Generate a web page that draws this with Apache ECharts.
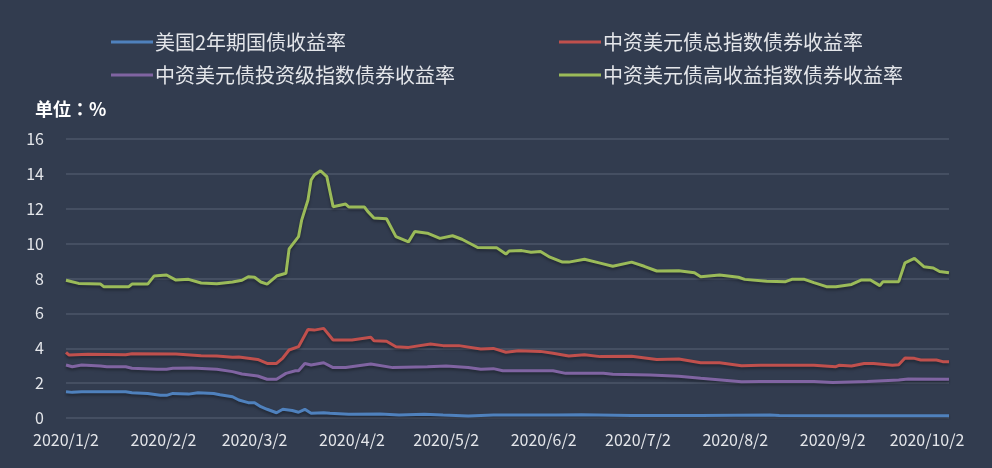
<!DOCTYPE html>
<html>
<head>
<meta charset="utf-8">
<script src="https://cdn.jsdelivr.net/npm/echarts@6/dist/echarts.min.js"></script>
<style>
  html, body { margin: 0; padding: 0; background: #323c4f; }
  #main { width: 992px; height: 468px; }
</style>
</head>
<body>
<div id="main"></div>
<script>
// 系列名称
var seriesNames = ['美国2年期国债收益率', '中资美元债总指数债券收益率', '中资美元债投资级指数债券收益率', '中资美元债高收益指数债券收益率'];
var seriesColors = ['#4f81bd', '#c0504d', '#8064a2', '#9bbb59'];

// 日期区间（日历日）
var startDate = '2020/1/2';
var endDate = '2020/10/9';

// 美国2年期国债收益率
var ust2y = [
    ['2020/1/2', 1.51], ['2020/1/4', 1.47], ['2020/1/7', 1.51], ['2020/1/21', 1.51], ['2020/1/23', 1.45],
    ['2020/1/28', 1.41], ['2020/2/1', 1.30], ['2020/2/3', 1.30], ['2020/2/5', 1.41], ['2020/2/10', 1.37],
    ['2020/2/13', 1.45], ['2020/2/18', 1.41], ['2020/2/20', 1.33], ['2020/2/24', 1.22], ['2020/2/26', 1.03],
    ['2020/2/29', 0.88], ['2020/3/2', 0.88], ['2020/3/4', 0.65], ['2020/3/6', 0.50], ['2020/3/9', 0.30],
    ['2020/3/11', 0.50], ['2020/3/14', 0.43], ['2020/3/16', 0.33], ['2020/3/18', 0.50], ['2020/3/20', 0.27],
    ['2020/3/24', 0.30], ['2020/3/26', 0.27], ['2020/4/1', 0.21], ['2020/4/11', 0.23], ['2020/4/17', 0.17],
    ['2020/4/25', 0.21], ['2020/5/1', 0.17], ['2020/5/9', 0.12], ['2020/5/17', 0.17], ['2020/6/6', 0.17],
    ['2020/6/14', 0.19], ['2020/6/30', 0.15], ['2020/7/22', 0.14], ['2020/8/13', 0.17], ['2020/8/16', 0.14],
    ['2020/9/11', 0.13], ['2020/10/9', 0.13]
];

// 中资美元债总指数债券收益率
var totalIdx = [
    ['2020/1/2', 3.77], ['2020/1/3', 3.61], ['2020/1/9', 3.66], ['2020/1/21', 3.63], ['2020/1/23', 3.69],
    ['2020/2/6', 3.67], ['2020/2/14', 3.57], ['2020/2/19', 3.55], ['2020/2/24', 3.48], ['2020/2/26', 3.50],
    ['2020/3/3', 3.36], ['2020/3/6', 3.13], ['2020/3/9', 3.13], ['2020/3/11', 3.44], ['2020/3/13', 3.90],
    ['2020/3/16', 4.09], ['2020/3/19', 5.08], ['2020/3/21', 5.04], ['2020/3/24', 5.14], ['2020/3/27', 4.47],
    ['2020/4/2', 4.47], ['2020/4/8', 4.63], ['2020/4/9', 4.43], ['2020/4/13', 4.40], ['2020/4/16', 4.09],
    ['2020/4/20', 4.05], ['2020/4/27', 4.24], ['2020/5/1', 4.15], ['2020/5/6', 4.15], ['2020/5/13', 3.96],
    ['2020/5/17', 3.99], ['2020/5/21', 3.77], ['2020/5/25', 3.86], ['2020/6/1', 3.82], ['2020/6/5', 3.71],
    ['2020/6/10', 3.56], ['2020/6/15', 3.63], ['2020/6/20', 3.52], ['2020/6/30', 3.54], ['2020/7/8', 3.36],
    ['2020/7/15', 3.38], ['2020/7/22', 3.17], ['2020/7/28', 3.17], ['2020/8/4', 3.00], ['2020/8/10', 3.02],
    ['2020/8/27', 3.02], ['2020/9/3', 2.94], ['2020/9/4', 3.02], ['2020/9/8', 2.98], ['2020/9/12', 3.13],
    ['2020/9/15', 3.13], ['2020/9/21', 3.02], ['2020/9/23', 3.05], ['2020/9/25', 3.44], ['2020/9/28', 3.42],
    ['2020/9/30', 3.33], ['2020/10/5', 3.33], ['2020/10/7', 3.23], ['2020/10/9', 3.23]
];

// 中资美元债投资级指数债券收益率
var igIdx = [
    ['2020/1/2', 3.04], ['2020/1/4', 2.94], ['2020/1/7', 3.04], ['2020/1/13', 2.98], ['2020/1/15', 2.94],
    ['2020/1/21', 2.94], ['2020/1/23', 2.85], ['2020/1/31', 2.79], ['2020/2/3', 2.79], ['2020/2/5', 2.85],
    ['2020/2/11', 2.87], ['2020/2/19', 2.79], ['2020/2/24', 2.66], ['2020/2/27', 2.52], ['2020/3/3', 2.41],
    ['2020/3/6', 2.22], ['2020/3/9', 2.22], ['2020/3/12', 2.56], ['2020/3/15', 2.71], ['2020/3/16', 2.71],
    ['2020/3/18', 3.13], ['2020/3/20', 3.04], ['2020/3/24', 3.17], ['2020/3/27', 2.89], ['2020/3/31', 2.90],
    ['2020/4/8', 3.10], ['2020/4/15', 2.89], ['2020/4/26', 2.94], ['2020/5/2', 2.98], ['2020/5/9', 2.90],
    ['2020/5/13', 2.79], ['2020/5/17', 2.83], ['2020/5/20', 2.71], ['2020/6/5', 2.71], ['2020/6/9', 2.56],
    ['2020/6/21', 2.56], ['2020/6/24', 2.51], ['2020/7/6', 2.47], ['2020/7/15', 2.40], ['2020/7/22', 2.28],
    ['2020/8/4', 2.08], ['2020/8/10', 2.10], ['2020/8/27', 2.10], ['2020/9/2', 2.04], ['2020/9/13', 2.10],
    ['2020/9/23', 2.18], ['2020/9/26', 2.24], ['2020/10/9', 2.22]
];

// 中资美元债高收益指数债券收益率
var hyIdx = [
    ['2020/1/2', 7.90], ['2020/1/6', 7.72], ['2020/1/13', 7.68], ['2020/1/14', 7.53], ['2020/1/22', 7.53],
    ['2020/1/23', 7.68], ['2020/1/28', 7.68], ['2020/1/30', 8.14], ['2020/2/3', 8.20], ['2020/2/6', 7.91],
    ['2020/2/10', 7.95], ['2020/2/14', 7.74], ['2020/2/19', 7.70], ['2020/2/24', 7.80], ['2020/2/27', 7.90],
    ['2020/2/29', 8.10], ['2020/3/2', 8.07], ['2020/3/4', 7.80], ['2020/3/6', 7.68], ['2020/3/9', 8.14],
    ['2020/3/12', 8.30], ['2020/3/13', 9.70], ['2020/3/16', 10.40], ['2020/3/17', 11.35], ['2020/3/19', 12.50],
    ['2020/3/20', 13.65], ['2020/3/21', 13.93], ['2020/3/23', 14.18], ['2020/3/25', 13.84], ['2020/3/27', 12.12],
    ['2020/3/31', 12.27], ['2020/4/1', 12.10], ['2020/4/6', 12.10], ['2020/4/7', 11.85], ['2020/4/9', 11.47],
    ['2020/4/13', 11.43], ['2020/4/16', 10.40], ['2020/4/20', 10.10], ['2020/4/22', 10.70], ['2020/4/26', 10.60],
    ['2020/4/30', 10.30], ['2020/5/4', 10.45], ['2020/5/7', 10.25], ['2020/5/12', 9.78], ['2020/5/18', 9.77],
    ['2020/5/21', 9.40], ['2020/5/22', 9.58], ['2020/5/26', 9.60], ['2020/5/29', 9.50], ['2020/6/1', 9.55],
    ['2020/6/4', 9.22], ['2020/6/8', 8.94], ['2020/6/10', 8.94], ['2020/6/15', 9.10], ['2020/6/20', 8.88],
    ['2020/6/24', 8.70], ['2020/6/30', 8.94], ['2020/7/4', 8.70], ['2020/7/8', 8.43], ['2020/7/15', 8.45],
    ['2020/7/20', 8.33], ['2020/7/22', 8.10], ['2020/7/28', 8.20], ['2020/8/3', 8.07], ['2020/8/5', 7.95],
    ['2020/8/12', 7.84], ['2020/8/18', 7.82], ['2020/8/20', 7.95], ['2020/8/24', 7.95], ['2020/8/27', 7.76],
    ['2020/8/31', 7.53], ['2020/9/3', 7.53], ['2020/9/8', 7.66], ['2020/9/11', 7.91], ['2020/9/14', 7.91],
    ['2020/9/17', 7.59], ['2020/9/18', 7.82], ['2020/9/23', 7.82], ['2020/9/25', 8.90], ['2020/9/28', 9.15],
    ['2020/10/1', 8.68], ['2020/10/4', 8.60], ['2020/10/6', 8.40], ['2020/10/9', 8.33]
];

// 日期类目
function fmt(d) {
    return d.getFullYear() + '/' + (d.getMonth() + 1) + '/' + d.getDate();
}
var dates = [];
var cur = new Date(startDate);
var last = new Date(endDate);
while (cur <= last) {
    dates.push(fmt(cur));
    cur.setDate(cur.getDate() + 1);
}

var allData = [ust2y, totalIdx, igIdx, hyIdx];
var legendPos = [
    {left: 106, top: 27},
    {left: 554, top: 27},
    {left: 106, top: 60},
    {left: 554, top: 60}
];

var textFont = '"Noto Sans CJK SC", "Noto Sans", sans-serif';

var chart = echarts.init(document.getElementById('main'));
chart.setOption({
    backgroundColor: '#323c4f',
    animation: false,
    title: {
        text: '单位：%',
        left: 30,
        top: 95,
        textStyle: {color: '#ffffff', fontSize: 18, fontWeight: 'bold', fontFamily: '"Noto Sans CJK JP", sans-serif'}
    },
    legend: seriesNames.map(function (name, i) {
        return {
            data: [name],
            left: legendPos[i].left,
            top: legendPos[i].top,
            icon: 'rect',
            itemWidth: 42,
            itemHeight: 3,
            itemGap: 0,
            textStyle: {color: '#e4e6ea', fontSize: 20, fontFamily: textFont, padding: [0, 0, 0, -3]}
        };
    }),
    grid: {left: 66, right: 43, top: 139, bottom: 50},
    xAxis: {
        type: 'category',
        data: dates,
        boundaryGap: false,
        axisLine: {show: false},
        axisTick: {show: false},
        axisLabel: {
            color: '#e4e6ea',
            fontSize: 16,
            fontFamily: textFont,
            margin: 14,
            interval: function (idx, val) {
                return val.split('/')[2] === '2';
            }
        },
        splitLine: {show: false}
    },
    yAxis: {
        type: 'value',
        min: 0,
        max: 16,
        interval: 2,
        axisLine: {show: false},
        axisTick: {show: false},
        axisLabel: {color: '#e4e6ea', fontSize: 16, fontFamily: textFont, margin: 22},
        splitLine: {lineStyle: {color: '#4c5669', width: 1.5}}
    },
    series: seriesNames.map(function (name, i) {
        return {
            name: name,
            type: 'line',
            data: allData[i],
            showSymbol: false,
            color: seriesColors[i],
            lineStyle: {
                width: 3,
                color: seriesColors[i],
                shadowColor: 'rgba(0,0,0,0.35)',
                shadowBlur: 3,
                shadowOffsetY: 2
            }
        };
    })
});
</script>
</body>
</html>
